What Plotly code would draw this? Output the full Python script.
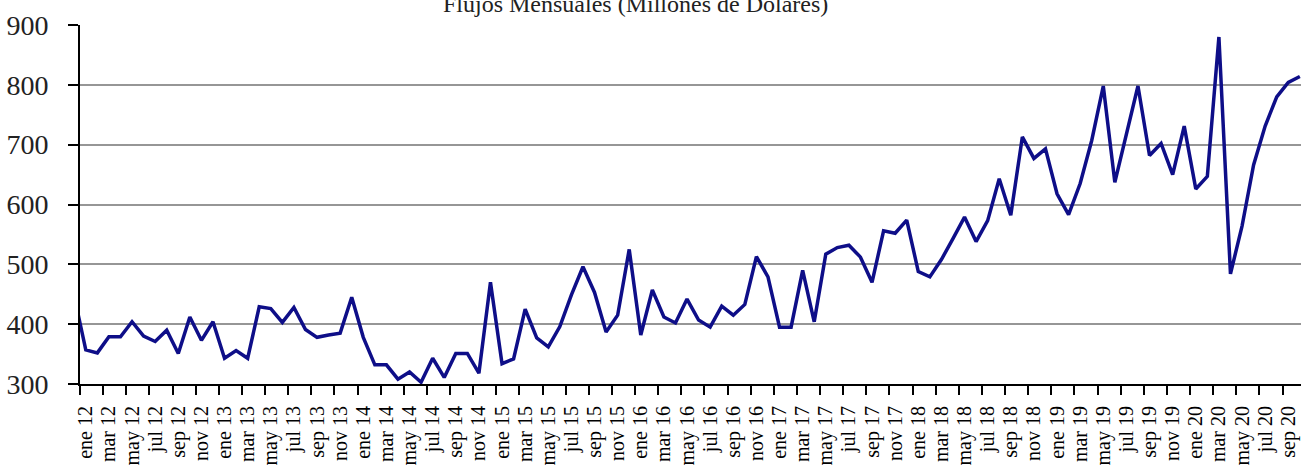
import plotly.graph_objects as go

meses = ["ene", "feb", "mar", "abr", "may", "jun", "jul", "ago", "sep", "oct", "nov", "dic"]

# Periods: dic 11 (partly outside the plot) through oct 20
periodos = ["dic 11"] + [f"{m} {y:02d}" for y in range(12, 21) for m in meses][:106]

flujos = [
    447,
    357, 352, 379, 379, 404, 380, 371, 390, 351, 412, 373, 404,   # 2012
    343, 356, 343, 429, 426, 403, 428, 391, 378, 382, 385, 445,   # 2013
    378, 332, 332, 308, 320, 303, 343, 311, 351, 351, 318, 470,   # 2014
    334, 342, 425, 377, 362, 396, 449, 496, 453, 387, 415, 525,   # 2015
    382, 457, 412, 402, 442, 407, 395, 430, 415, 433, 513, 479,   # 2016
    395, 395, 490, 404, 517, 528, 532, 512, 470, 556, 552, 574,   # 2017
    488, 479, 508, 543, 579, 538, 573, 643, 582, 713, 677, 693,   # 2018
    618, 583, 635, 707, 798, 637, 717, 798, 682, 702, 650, 731,   # 2019
    626, 647, 880, 484, 564, 666, 731, 780, 804, 814,             # 2020
]

titulo = "Flujos Mensuales (Millones de Dolares)"

x = list(range(-1, len(flujos) - 1))
label_idx = [i for i in range(0, len(flujos) - 1, 2)][:53]
label_txt = [periodos[i + 1] for i in label_idx]
bound_idx = [i - 0.5 for i in label_idx]

fig = go.Figure()
fig.add_trace(go.Scatter(
    x=x, y=flujos, mode="lines",
    line=dict(color="#0e0e88", width=3.5),
    showlegend=False, hoverinfo="skip",
))

serif = "Liberation Serif, Times New Roman, serif"

fig.update_layout(
    width=1301, height=466,
    margin=dict(l=80, r=0, t=25, b=82, autoexpand=False),
    paper_bgcolor="white", plot_bgcolor="white",
    font=dict(family=serif, color="black"),
    annotations=[dict(
        text=titulo, xref="paper", yref="paper", x=0.455, y=1,
        xanchor="center", yanchor="bottom", yshift=6, showarrow=False,
        font=dict(family=serif, size=24, color="#222"),
    )],
)

fig.update_xaxes(
    automargin=False,
    range=[-0.5, 105.1],
    tickmode="array", tickvals=label_idx, ticktext=label_txt,
    tickangle=-90, ticks="", ticklabelstandoff=12,
    tickfont=dict(family=serif, size=20, color="black"),
    showgrid=False, zeroline=False,
    showline=True, linecolor="black", linewidth=2,
    minor=dict(tickmode="array", tickvals=bound_idx, ticks="outside",
               ticklen=9, tickwidth=1.5, tickcolor="black", showgrid=False),
)

fig.update_yaxes(
    automargin=False,
    range=[300, 900], tickmode="linear", tick0=300, dtick=100,
    ticks="outside", ticklen=10, tickwidth=1.5, tickcolor="black",
    ticklabelstandoff=14,
    tickfont=dict(family=serif, size=28, color="#222"),
    showgrid=True, gridcolor="#969696", gridwidth=1.8,
    zeroline=False, showline=True, linecolor="black", linewidth=2,
)

fig.write_html(
    "out.html",
    config={"displayModeBar": False},
    post_script="document.body.style.margin='0';document.body.style.overflow='hidden';",
)
